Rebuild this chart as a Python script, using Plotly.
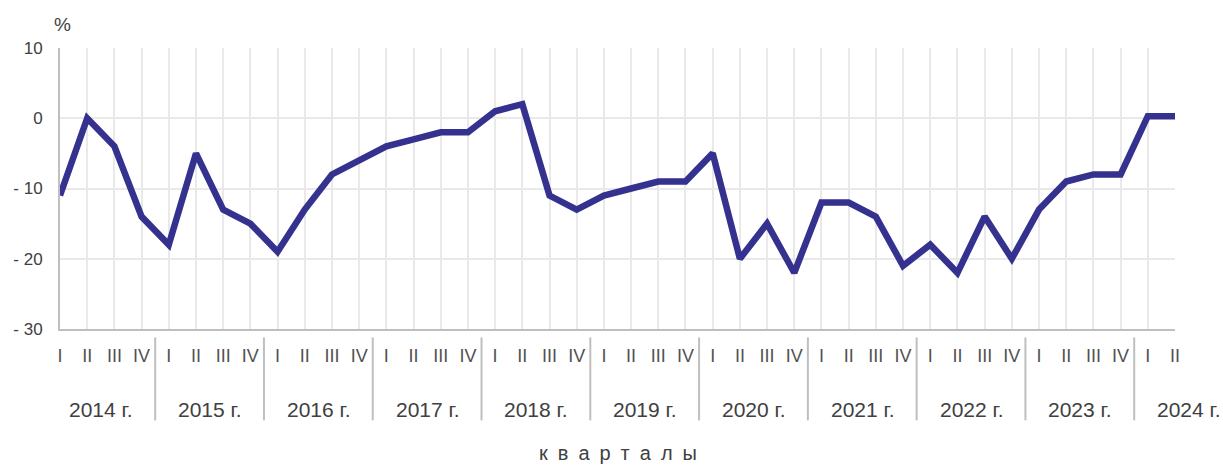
import plotly.graph_objects as go

years = ["2014 г.", "2015 г.", "2016 г.", "2017 г.", "2018 г.", "2019 г.",
         "2020 г.", "2021 г.", "2022 г.", "2023 г.", "2024 г."]
quarter_names = ["I", "II", "III", "IV"]
quarters_per_year = [4, 4, 4, 4, 4, 4, 4, 4, 4, 4, 2]

values = [-11, 0, -4, -14,
          -18, -5, -13, -15,
          -19, -13, -8, -6,
          -4, -3, -2, -2,
          1, 2, -11, -13,
          -11, -10, -9, -9,
          -5, -20, -15, -22,
          -12, -12, -14, -21,
          -18, -22, -14, -20,
          -13, -9, -8, -8,
          0.3, 0.3]

y_ticks = [-30, -20, -10, 0, 10]
y_ticktext = ["- 30", "- 20", "- 10", "0", "10"]
x_title = "кварталы"

labels = []
for n in quarters_per_year:
    labels += quarter_names[:n]
x = list(range(len(values)))
x_span = len(values) - 1

FONT = "Liberation Sans, Arial, sans-serif"
TXT = "#404040"
LINE = "#35318F"
GRID = "#e9e9e9"
AXIS = "#bfbfbf"

fig = go.Figure()
fig.add_trace(go.Scatter(x=x, y=values, mode="lines",
                         line=dict(color=LINE, width=6.5),
                         hoverinfo="skip", showlegend=False))

shapes = []
annotations = []
start = 0
for yr, n in zip(years, quarters_per_year):
    annotations.append(dict(x=(start + 1.5) / x_span, y=-0.288, xref="paper", yref="paper",
                            text=yr, showarrow=False, xanchor="center", yanchor="middle",
                            font=dict(family=FONT, size=21, color=TXT)))
    if start > 0:
        shapes.append(dict(type="line", xref="x", yref="paper",
                           x0=start - 0.5, x1=start - 0.5, y0=-0.03, y1=-0.325,
                           line=dict(color=AXIS, width=2)))
    start += n

annotations.append(dict(x=0.5, y=-0.441, xref="paper", yref="paper",
                        text="\u2002".join(x_title), showarrow=False,
                        xanchor="center", yanchor="middle",
                        font=dict(family=FONT, size=20, color=TXT)))
annotations.append(dict(x=0.002, y=1.085, xref="paper", yref="paper",
                        text="%", showarrow=False, xanchor="center", yanchor="middle",
                        font=dict(family=FONT, size=19, color=TXT)))

fig.update_layout(
    width=1223, height=465,
    margin=dict(l=60, r=48, t=48, b=136),
    plot_bgcolor="white", paper_bgcolor="white",
    shapes=shapes, annotations=annotations,
    xaxis=dict(range=[0, x_span], tickmode="array", tickvals=x, ticktext=labels,
               showgrid=True, gridcolor=GRID, gridwidth=2, zeroline=False,
               showline=True, linecolor=AXIS, linewidth=2,
               ticks="outside", ticklen=9, tickcolor="rgba(0,0,0,0)",
               tickfont=dict(family=FONT, size=18, color="#505050"),
               fixedrange=True),
    yaxis=dict(range=[-30, 10], tickmode="array", tickvals=y_ticks, ticktext=y_ticktext,
               showgrid=True, gridcolor=GRID, gridwidth=2, zeroline=False,
               showline=True, linecolor=AXIS, linewidth=2,
               ticks="outside", ticklen=12, tickcolor="rgba(0,0,0,0)",
               tickfont=dict(family=FONT, size=17, color=TXT),
               fixedrange=True),
)

fig.write_html("out.html", config={"displayModeBar": False},
               post_script="document.body.style.margin='0';document.body.style.padding='0';")
